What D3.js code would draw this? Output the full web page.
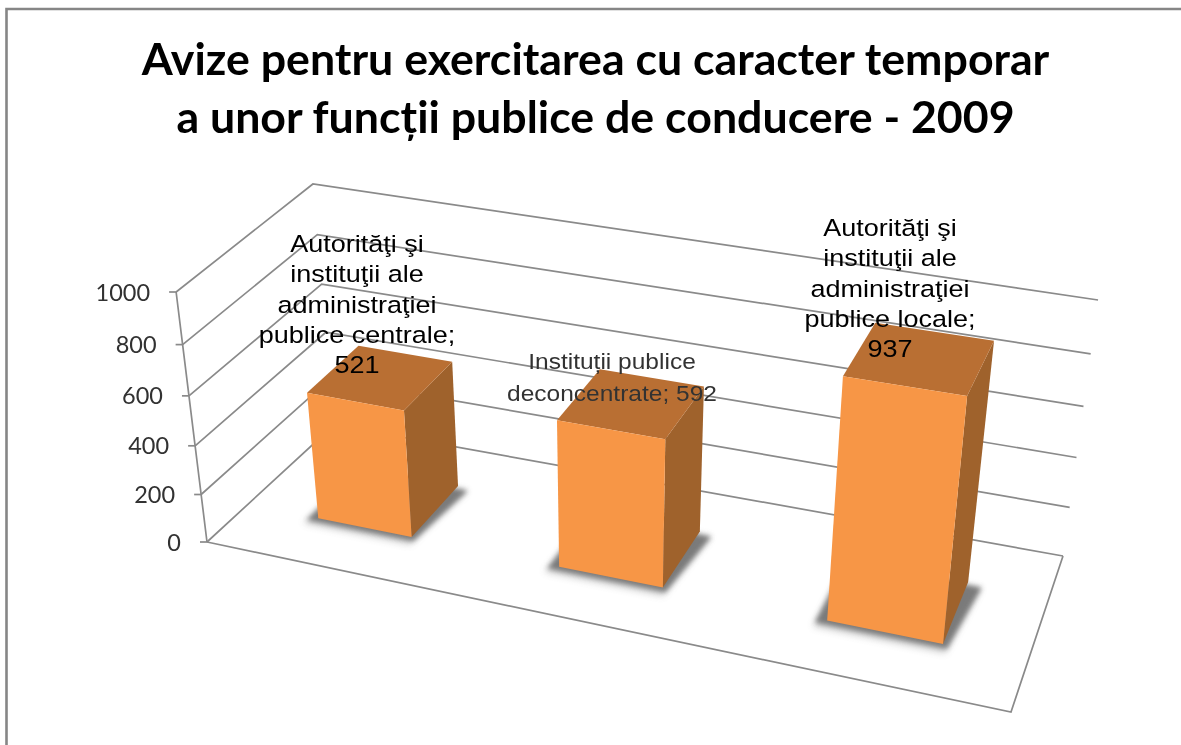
<!DOCTYPE html><html><head><meta charset="utf-8"><style>html,body{margin:0;background:#fff;overflow:hidden}</style></head><body>
<script src="https://cdn.jsdelivr.net/npm/d3@7"></script>
<script>
// ---- data ----
const categories = ["Autorități centrale","Instituții deconcentrate","Autorități locale"];
const values = [521, 592, 937];
const tickValues = [0, 200, 400, 600, 800, 1000];
const titleLines = ["Avize pentru exercitarea cu caracter temporar","a unor funcții publice de conducere - 2009"];
const label1 = ["Autorităţi şi","instituţii ale","administraţiei","publice centrale;","521"];
const label2 = ["Instituții publice","deconcentrate; 592"];
const label3 = ["Autorităţi şi","instituţii ale","administraţiei","publice locale;","937"];
const labels = [label1, label2, label3];

// ---- layout ----
const W = 1181, H = 745;
const floorCorners = [[207,542],[1011,712],[1063,556],[334,425]];
const topCorners   = [[175,292],[1043,437],[1095,300],[310,184]];
const vanishX = 608, spread = 1.077, depthBend = 1.066;
const labelAnchors = [[357,252,30.3],[612,369,32],[890,236,30.3]]; // x, first baseline, leading

function homography([a,b,c,d]){
  const dx1=b[0]-c[0],dx2=d[0]-c[0],sx=a[0]-b[0]+c[0]-d[0];
  const dy1=b[1]-c[1],dy2=d[1]-c[1],sy=a[1]-b[1]+c[1]-d[1];
  const den=dx1*dy2-dx2*dy1,g=(sx*dy2-dx2*sy)/den,h=(dx1*sy-sx*dy1)/den;
  const m=[b[0]-a[0]+g*b[0],d[0]-a[0]+h*d[0],a[0],b[1]-a[1]+g*b[1],d[1]-a[1]+h*d[1],a[1],g,h];
  return (u,z)=>{const w=m[6]*u+m[7]*z+1;return[(m[0]*u+m[1]*z+m[2])/w,(m[3]*u+m[4]*z+m[5])/w];};
}
const floorH = homography(floorCorners), topH = homography(topCorners);
const yS = d3.scaleLinear().domain([0,1000]).range([0,1]);
const xS = d3.scaleBand().domain(categories).range([0.004,1.006]).paddingInner(0.6).paddingOuter(0.3);
const zS = d3.scaleLinear().domain([0,1]).range([0.30,0.71]);
function project(u,z,v){
  const f=floorH(u,z),t=topH(u,z),k0=yS(v);
  const k=k0/(k0+(1-k0)*depthBend);
  const tx=vanishX+(f[0]-vanishX)*spread;
  return [f[0]+(tx-f[0])*k,f[1]+(t[1]-f[1])*k];
}
const line = d3.line();
const poly = pts => line(pts)+"Z";

const svg = d3.select("body").append("svg").attr("width",W).attr("height",H).style("display","block");
const defs = svg.append("defs");
defs.append("filter").attr("id","soft").attr("x","-5%").attr("y","-20%").attr("width","110%").attr("height","140%")
  .append("feGaussianBlur").attr("stdDeviation",0.45);
defs.append("filter").attr("id","shadow").attr("x","-30%").attr("y","-30%").attr("width","160%").attr("height","160%")
  .append("feGaussianBlur").attr("stdDeviation",2.4);
defs.append("filter").attr("id","shadowWide").attr("x","-30%").attr("y","-30%").attr("width","160%").attr("height","160%")
  .append("feGaussianBlur").attr("stdDeviation",3.6);

const grey="#8a8a8a";
// outer frame
svg.append("path").attr("d","M6.5,745V9H1181").attr("fill","none").attr("stroke","#868686").attr("stroke-width",2.6);

// title
svg.append("g").attr("filter","url(#soft)").selectAll("text").data(titleLines).join("text")
  .attr("x",595.5).attr("y",(d,i)=>75+i*57.5).attr("text-anchor","middle")
  .attr("font-family","Lato, 'Open Sans', sans-serif").attr("font-weight",700).attr("font-size",44.7)
  .attr("fill","#000").text(d=>d);

// grid
const grid = svg.append("g").attr("fill","none").attr("stroke",grey).attr("stroke-width",1.7);
grid.selectAll("path.g").data(tickValues).join("path").attr("class","g")
  .attr("d",v=>line([project(0,0,v),project(0,1,v),project(1,1,v)]));
grid.append("path").attr("d",line(tickValues.map(v=>project(0,0,v))));
grid.append("path").attr("d",line([project(0,0,0),project(1,0,0),project(1,1,0)]));
grid.selectAll("path.t").data(tickValues).join("path").attr("class","t")
  .attr("d",v=>{const p=project(0,0,v);return line([[p[0]-7,p[1]],p]);});

// tick labels
svg.append("g").attr("filter","url(#soft)").selectAll("text").data(tickValues).join("text")
  .attr("x",v=>project(0,0,v)[0]-26).attr("y",v=>project(0,0,v)[1]+8.5)
  .attr("text-anchor","end").attr("font-family","Lato, sans-serif").attr("font-size",23.5)
  .attr("fill","#303030").text(v=>v);

// bars
const bars = svg.append("g").selectAll("g").data(categories).join("g");
bars.append("path").attr("filter","url(#shadowWide)").attr("fill","#8a8a8a").attr("opacity",0.45)
  .attr("d",c=>{const a=xS(c),b=a+xS.bandwidth(),z0=zS(0),z1=zS(1);
    return poly([project(a-.012,z0-.05,0),project(b+.006,z0-.05,0),project(b+.017,z1-.02,0),project(a-.012,z1-.02,0)]);});
bars.append("path").attr("filter","url(#shadow)").attr("fill","#6f6f6f").attr("opacity",0.88)
  .attr("d",c=>{const a=xS(c),b=a+xS.bandwidth(),z0=zS(0),z1=zS(1);
    return poly([project(a-.012,z0-.024,0),project(b+.006,z0-.024,0),project(b+.017,z1-.02,0),project(a-.012,z1-.02,0)]);});
bars.append("path").attr("fill","#9f622c")
  .attr("d",(c,i)=>{const b=xS(c)+xS.bandwidth(),v=values[i];
    return poly([project(b,zS(0),0),project(b,zS(1),0),project(b,zS(1),v),project(b,zS(0),v)]);});
bars.append("path").attr("fill","#b96f33")
  .attr("d",(c,i)=>{const a=xS(c),b=a+xS.bandwidth(),v=values[i];
    return poly([project(a,zS(0),v),project(b,zS(0),v),project(b,zS(1),v),project(a,zS(1),v)]);});
bars.append("path").attr("fill","#f79646")
  .attr("d",(c,i)=>{const a=xS(c),b=a+xS.bandwidth(),v=values[i];
    return poly([project(a,zS(0),0),project(b,zS(0),0),project(b,zS(0),v),project(a,zS(0),v)]);});

// data labels (slightly wide, as in the reference)
labels.forEach((lines,i)=>{
  const [x,y0,lead]=labelAnchors[i];
  svg.append("g").attr("filter","url(#soft)").selectAll("text").data(lines).join("text")
    .attr("transform",(d,j)=>`translate(${x},${y0+j*lead}) scale(${i===1?1.115:1.15},1)`)
    .attr("text-anchor","middle")
    .attr("font-family","'Liberation Sans', Arial, sans-serif").attr("font-size",i===1?22:23.5)
    .attr("fill",i===1?"#333":"#000").text(d=>d);
});
</script></body></html>
